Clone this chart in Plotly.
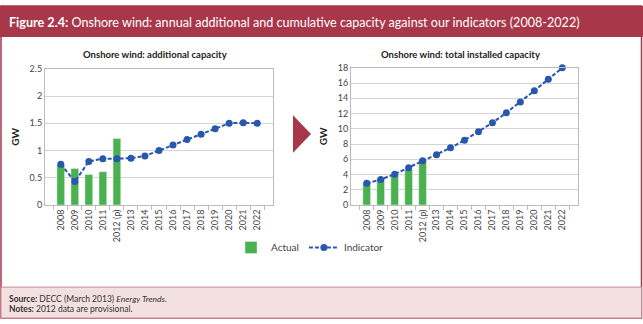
import plotly.graph_objects as go

years = ["2008", "2009", "2010", "2011", "2012 (p)", "2013", "2014", "2015",
         "2016", "2017", "2018", "2019", "2020", "2021", "2022"]
actual_years = years[:5]

add_actual = [0.74, 0.67, 0.56, 0.61, 1.22]
add_indicator = [0.75, 0.43, 0.80, 0.85, 0.85, 0.86, 0.90, 1.00, 1.10, 1.20,
                 1.30, 1.40, 1.50, 1.51, 1.50]

tot_actual = [2.9, 3.5, 4.05, 4.7, 6.0]
tot_indicator = [2.85, 3.35, 4.05, 4.9, 5.8, 6.6, 7.5, 8.5, 9.6, 10.8,
                 12.1, 13.5, 15.0, 16.5, 18.0]

W, H = 643, 324
GREEN = "#4BB04E"
BLUE = "#2A57AE"
RED = "#A8374A"
FONT = "Lato"

def px(x):
    return x / W

def py(y):
    return 1 - y / H

fig = go.Figure()

fig.add_trace(go.Bar(x=actual_years, y=add_actual, name="Actual",
                     marker_color=GREEN, width=0.55, xaxis="x", yaxis="y",
                     showlegend=True))
fig.add_trace(go.Scatter(x=years, y=add_indicator, name="Indicator",
                         mode="lines+markers", cliponaxis=False,
                         line=dict(color=BLUE, width=2, dash="4px,2px"),
                         marker=dict(color=BLUE, size=7),
                         xaxis="x", yaxis="y", showlegend=True))
fig.add_trace(go.Bar(x=actual_years, y=tot_actual, name="Actual",
                     marker_color=GREEN, width=0.55, xaxis="x2", yaxis="y2",
                     showlegend=False))
fig.add_trace(go.Scatter(x=years, y=tot_indicator, name="Indicator",
                         mode="lines+markers", cliponaxis=False,
                         line=dict(color=BLUE, width=2, dash="4px,2px"),
                         marker=dict(color=BLUE, size=7),
                         xaxis="x2", yaxis="y2", showlegend=False))

xcommon = dict(type="category", categoryorder="array", categoryarray=years,
               tickangle=-90, tickfont=dict(size=9, color="#444", family=FONT),
               showline=True, linecolor="#BBBBBB", linewidth=1, mirror=True,
               ticks="outside", tickson="boundaries", ticklen=4, tickcolor="#BBBBBB",
               showgrid=False)
ycommon = dict(tickfont=dict(size=9, color="#444", family=FONT),
               showline=True, linecolor="#BBBBBB", linewidth=1, mirror=True,
               gridcolor="#D4D4D4", gridwidth=1, zeroline=False,
               ticks="", title=dict(text="<b>GW</b>", font=dict(size=10, color="#222", family=FONT), standoff=8))

fig.update_layout(
    width=W, height=H,
    margin=dict(l=0, r=0, t=0, b=0),
    paper_bgcolor="white", plot_bgcolor="white",
    font=dict(family=FONT),
    bargap=0.4,
    xaxis=dict(domain=[px(45), px(273)], anchor="y", **xcommon),
    yaxis=dict(domain=[py(206), py(65)], anchor="x", range=[0, 2.5],
               tickvals=[0, 0.5, 1, 1.5, 2, 2.5], ticktext=["0", "0.5", "1", "1.5", "2", "2.5"],
               **ycommon),
    xaxis2=dict(domain=[px(351), px(578)], anchor="y2", **xcommon),
    yaxis2=dict(domain=[py(206), py(64)], anchor="x2", range=[0, 18], dtick=2,
                **ycommon),
    legend=dict(orientation="h", x=px(310), xanchor="center", y=py(250), yanchor="middle",
                font=dict(size=10, color="#444", family=FONT),
                bgcolor="rgba(0,0,0,0)", tracegroupgap=0),
    shapes=[
        # outer frame
        dict(type="rect", xref="paper", yref="paper", x0=px(1), x1=px(641.5), y0=py(323), y1=py(0),
             line=dict(color=RED, width=1.5), fillcolor="rgba(0,0,0,0)", layer="below"),
        # header
        dict(type="rect", xref="paper", yref="paper", x0=0, x1=1, y0=py(32), y1=1,
             line=dict(width=0), fillcolor=RED, layer="below"),
        # footer
        dict(type="rect", xref="paper", yref="paper", x0=px(1), x1=px(641.5), y0=py(323), y1=py(291),
             line=dict(color="#C98A94", width=1), fillcolor="#F3E1E1", layer="below"),
        # arrow
        dict(type="path", xref="paper", yref="paper",
             path=f"M {px(293)} {py(113)} L {px(311)} {py(132.5)} L {px(293)} {py(152)} Z",
             fillcolor=RED, line=dict(width=0)),
    ],
    annotations=[
        dict(text="<b>Figure 2.4:</b> Onshore wind: annual additional and cumulative capacity against our indicators (2008-2022)",
             xref="paper", yref="paper", x=px(7), y=py(17), xanchor="left", yanchor="middle",
             showarrow=False, font=dict(size=12.6, color="white", family=FONT)),
        dict(text="<b>Onshore wind: additional capacity</b>", xref="paper", yref="paper",
             x=px(155), y=py(50), xanchor="center", yanchor="middle", showarrow=False,
             font=dict(size=9.5, color="#222", family=FONT)),
        dict(text="<b>Onshore wind: total installed capacity</b>", xref="paper", yref="paper",
             x=px(460), y=py(50), xanchor="center", yanchor="middle", showarrow=False,
             font=dict(size=9.5, color="#222", family=FONT)),
        dict(text="<b>Source:</b> DECC (March 2013) <i>Energy Trends.</i>", xref="paper", yref="paper",
             x=px(7), y=py(303), xanchor="left", yanchor="middle", showarrow=False,
             font=dict(size=8.5, color="#333", family=FONT)),
        dict(text="<b>Notes:</b> 2012 data are provisional.", xref="paper", yref="paper",
             x=px(7), y=py(314), xanchor="left", yanchor="middle", showarrow=False,
             font=dict(size=8.5, color="#333", family=FONT)),
    ],
)

fig.write_html("out.html")
